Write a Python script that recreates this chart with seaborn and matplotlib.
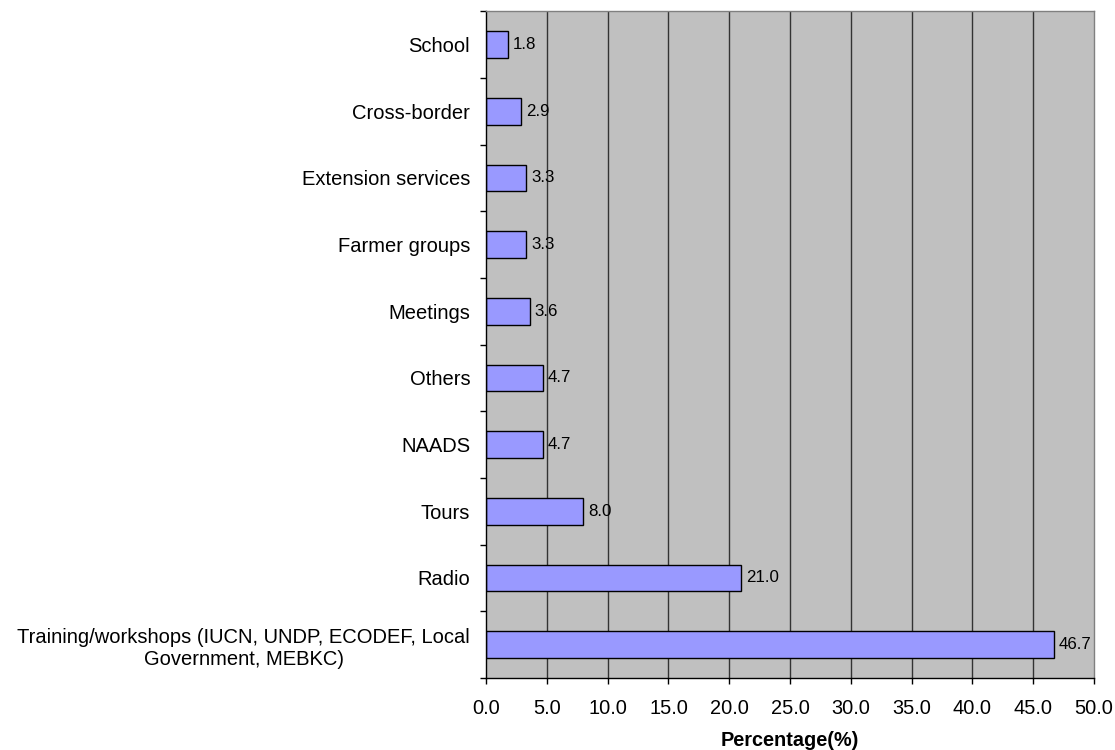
import matplotlib
matplotlib.use("Agg")
import matplotlib.pyplot as plt
import seaborn as sns
import pandas as pd

categories = [
    "School",
    "Cross-border",
    "Extension services",
    "Farmer groups",
    "Meetings",
    "Others",
    "NAADS",
    "Tours",
    "Radio",
    "Training/workshops (IUCN, UNDP, ECODEF, Local\nGovernment, MEBKC)",
]
percentages = [1.8, 2.9, 3.3, 3.3, 3.6, 4.7, 4.7, 8.0, 21.0, 46.7]
x_ticks = [0, 5, 10, 15, 20, 25, 30, 35, 40, 45, 50]

sns.set_theme(style="white", rc={
    "xtick.bottom": True,
    "ytick.left": True,
    "text.color": "black",
    "axes.labelcolor": "black",
    "xtick.color": "black",
    "ytick.color": "black",
})
plt.rcParams["font.family"] = ["Liberation Sans", "DejaVu Sans"]

df = pd.DataFrame({"source": categories, "pct": percentages})

fig = plt.figure(figsize=(11.15, 7.5), dpi=100)
ax = fig.add_axes([0.436, 0.096, 0.545, 0.889])
ax.set_facecolor("#C0C0C0")
ax.set_axisbelow(True)

sns.barplot(data=df, x="pct", y="source", orient="h", color="#9999FF",
            saturation=1, width=0.4, edgecolor="black", linewidth=1.0, ax=ax)

for x in x_ticks[1:-1]:
    ax.axvline(x, color="#333333", linewidth=1.0, zorder=0.5)

ax.set_xlim(0, 50)
ax.set_ylim(len(categories) - 0.5, -0.5)
ax.set_xticks(x_ticks)
ax.set_xticklabels([f"{v:.1f}" for v in x_ticks], fontsize=14.4)
ax.set_yticks(range(len(categories)))
ax.set_yticklabels(categories, fontsize=14.5)
for lbl in ax.get_yticklabels():
    lbl.set_multialignment("center")
ax.tick_params(axis="y", which="major", length=0, pad=11.5)
ax.set_yticks([i - 0.5 for i in range(len(categories) + 1)], minor=True)
ax.tick_params(axis="y", which="minor", length=4.5, width=1, color="black", direction="out")
ax.tick_params(axis="x", length=4, width=1, color="black", direction="out", pad=11)

for i, v in enumerate(percentages):
    ax.text(v + 0.4, i, f"{v:.1f}", va="center", ha="left", fontsize=12.2, color="black")

ax.set_xlabel("Percentage(%)", fontsize=14.3, fontweight="bold", labelpad=9.5)
ax.set_ylabel("")

for side in ["top", "right"]:
    ax.spines[side].set_color("#808080")
    ax.spines[side].set_linewidth(1)
for side in ["left", "bottom"]:
    ax.spines[side].set_color("black")
    ax.spines[side].set_linewidth(1)

fig.savefig("out.png", dpi=100)
